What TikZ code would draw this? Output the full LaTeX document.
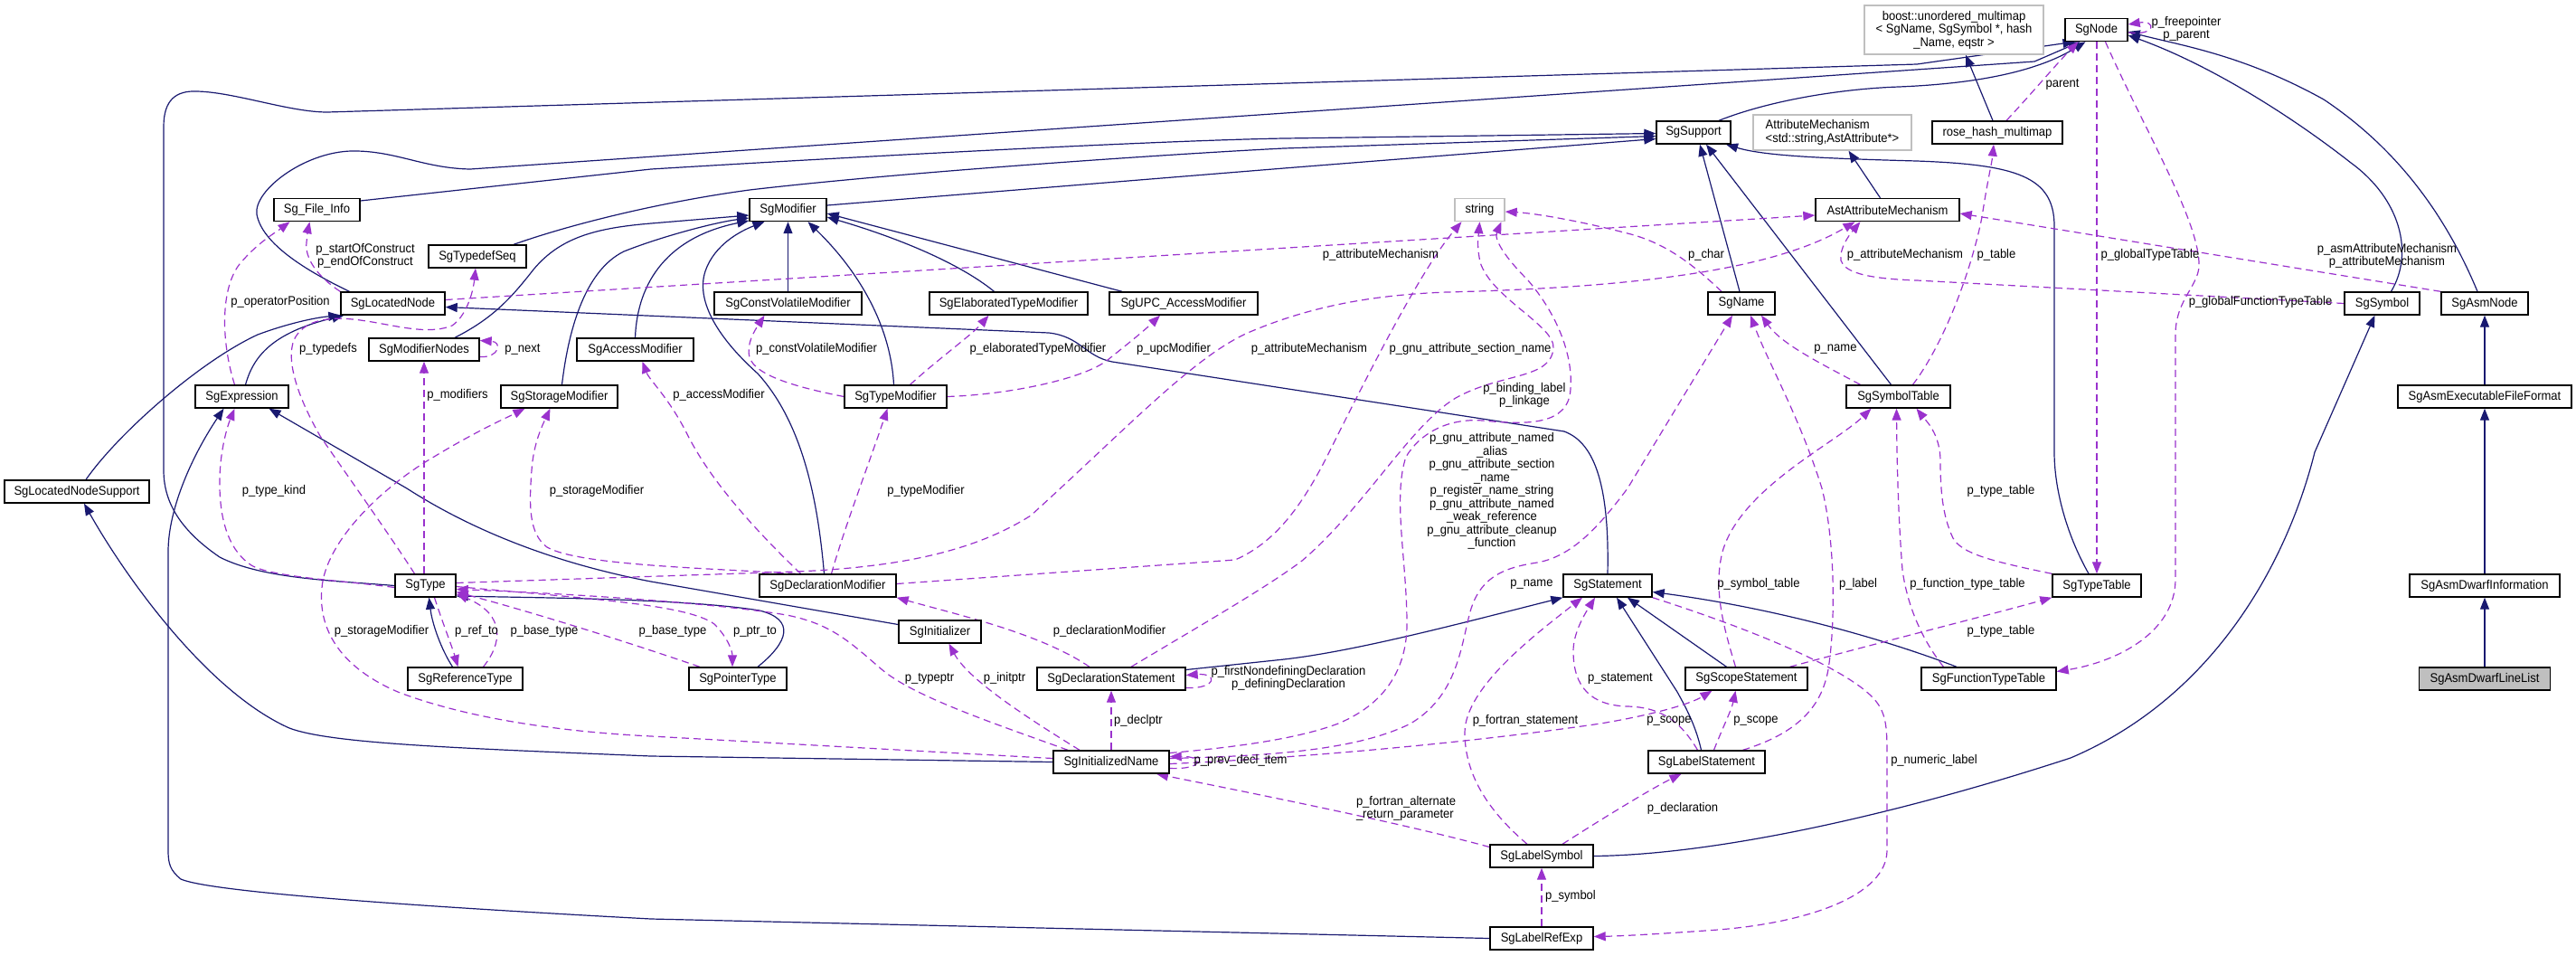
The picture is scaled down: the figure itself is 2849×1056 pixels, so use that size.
\documentclass[tikz,border=0pt]{standalone}
\usepackage{fontspec}
\newfontfamily\dfont{Liberation Sans}[FakeStretch=0.93]
\usetikzlibrary{arrows.meta}
\definecolor{navy}{HTML}{191970}
\definecolor{orch}{HTML}{9A32CD}
\definecolor{gborder}{HTML}{BFBFBF}
\definecolor{gfill}{HTML}{BFBFBF}
\newcommand\dgf{\dfont\fontsize{7pt}{7.25pt}\selectfont}
\pgfdeclarelayer{edges}
\pgfsetlayers{edges,main}
\tikzset{
 cls/.style={draw=black, line width=0.7pt, fill=white, minimum height=12.5pt, inner sep=0pt, font=\dgf, align=center},
 ext/.style={cls, draw=gborder},
 lbl/.style={inner sep=0pt, font=\dgf, align=center},
 inh/.style={draw=navy, line width=0.6pt, -{Triangle[length=6.5pt,width=5pt]}},
 use/.style={draw=orch, line width=0.6pt, dash pattern=on 4pt off 2.5pt, -{Triangle[length=6.5pt,width=5pt]}},
}
\begin{document}
\begin{tikzpicture}[x=0.5pt,y=-0.5pt]
\useasboundingbox (0,0) rectangle (2849,1056);
% ---------- classes
\node[cls,minimum width=34.5pt] (nNode) at (2318.5,33) {SgNode};
\node[ext,minimum width=99pt,minimum height=27pt] (nBoost) at (2161,33) {boost::unordered\_multimap\\< SgName, SgSymbol *, hash\\\_Name, eqstr >};
\node[cls,minimum width=41pt] (nSupp) at (1873,146.5) {SgSupport};
\node[ext,minimum width=87.5pt,minimum height=19.5pt,align=left] (nAttrm) at (2026.5,146.5) {AttributeMechanism\\<std::string,AstAttribute*>};
\node[cls,minimum width=72pt] (nRhm) at (2209,146.5) {rose\_hash\_multimap};
\node[cls,minimum width=47.5pt] (nFi) at (350.5,232) {Sg\_File\_Info};
\node[cls,minimum width=42.5pt] (nMod) at (871.5,232) {SgModifier};
\node[ext,minimum width=27.5pt] (nStr) at (1636.5,232) {string};
\node[cls,minimum width=79.5pt] (nAam) at (2087.5,232) {AstAttributeMechanism};
\node[cls,minimum width=54pt] (nTds) at (528,283.5) {SgTypedefSeq};
\node[cls,minimum width=57.5pt] (nLn) at (434.5,335.5) {SgLocatedNode};
\node[cls,minimum width=81.5pt] (nCvm) at (871.5,335.5) {SgConstVolatileModifier};
\node[cls,minimum width=87.5pt] (nEtm) at (1115.5,335.5) {SgElaboratedTypeModifier};
\node[cls,minimum width=82pt] (nUpc) at (1309,335.5) {SgUPC\_AccessModifier};
\node[cls,minimum width=37pt] (nName) at (1926,335.5) {SgName};
\node[cls,minimum width=41.5pt] (nSym) at (2634.5,335.5) {SgSymbol};
\node[cls,minimum width=48pt] (nAsmn) at (2748,335.5) {SgAsmNode};
\node[cls,minimum width=61pt] (nMn) at (469,386.5) {SgModifierNodes};
\node[cls,minimum width=64.5pt] (nAm) at (702.5,386.5) {SgAccessModifier};
\node[cls,minimum width=51.5pt] (nExpr) at (267.5,438.5) {SgExpression};
\node[cls,minimum width=64.5pt] (nSm) at (618.5,438.5) {SgStorageModifier};
\node[cls,minimum width=56.5pt] (nTm) at (990.5,438.5) {SgTypeModifier};
\node[cls,minimum width=57.5pt] (nSt) at (2099.5,438.5) {SgSymbolTable};
\node[cls,minimum width=96pt] (nAeff) at (2748,438.5) {SgAsmExecutableFileFormat};
\node[cls,minimum width=80pt] (nLns) at (85,543.5) {SgLocatedNodeSupport};
\node[cls,minimum width=33.5pt] (nType) at (470.5,647.5) {SgType};
\node[cls,minimum width=75.5pt] (nDm) at (915.5,647.5) {SgDeclarationModifier};
\node[cls,minimum width=49pt] (nStmt) at (1778,647.5) {SgStatement};
\node[cls,minimum width=49pt] (nTt) at (2319,647.5) {SgTypeTable};
\node[cls,minimum width=83pt] (nAdi) at (2748,647.5) {SgAsmDwarfInformation};
\node[cls,minimum width=45.5pt] (nInit) at (1039.5,698.5) {SgInitializer};
\node[cls,minimum width=63.5pt] (nRt) at (514.5,750.5) {SgReferenceType};
\node[cls,minimum width=54pt] (nPt) at (816,750.5) {SgPointerType};
\node[cls,minimum width=82pt] (nDs) at (1229,750.5) {SgDeclarationStatement};
\node[cls,minimum width=67.5pt] (nSs) at (1931.5,750.5) {SgScopeStatement};
\node[cls,minimum width=74.5pt] (nFtt) at (2199.5,750.5) {SgFunctionTypeTable};
\node[cls,minimum width=72.5pt,fill=gfill] (nAdll) at (2748,750.5) {SgAsmDwarfLineList};
\node[cls,minimum width=64pt] (nIname) at (1229,842.5) {SgInitializedName};
\node[cls,minimum width=64.5pt] (nLs) at (1887.5,842.5) {SgLabelStatement};
\node[cls,minimum width=57pt] (nLsym) at (1705,946.5) {SgLabelSymbol};
\node[cls,minimum width=57pt] (nLre) at (1705,1037.5) {SgLabelRefExp};
% ---------- edge labels
\node[lbl] (l1) at (404,283) {p\_startOfConstruct\\p\_endOfConstruct};
\node[lbl] (l2) at (310,334) {p\_operatorPosition};
\node[lbl] (l3) at (363,386) {p\_typedefs};
\node[lbl] (l4) at (578,386) {p\_next};
\node[lbl] (l5) at (506,437) {p\_modifiers};
\node[lbl] (l6) at (303,543) {p\_type\_kind};
\node[lbl] (l7) at (660,543) {p\_storageModifier};
\node[lbl] (l8) at (422,698) {p\_storageModifier};
\node[lbl] (l9) at (795,437) {p\_accessModifier};
\node[lbl] (l10) at (1024,543) {p\_typeModifier};
\node[lbl] (l11) at (903,386) {p\_constVolatileModifier};
\node[lbl] (l12) at (1148,386) {p\_elaboratedTypeModifier};
\node[lbl] (l13) at (1298,386) {p\_upcModifier};
\node[lbl] (l14) at (1527,282) {p\_attributeMechanism};
\node[lbl] (l15) at (1448,386) {p\_attributeMechanism};
\node[lbl] (l16) at (2107,282) {p\_attributeMechanism};
\node[lbl] (l17) at (2640,283) {p\_asmAttributeMechanism\\p\_attributeMechanism};
\node[lbl] (l18) at (1887,282) {p\_char};
\node[lbl] (l19) at (1626,386) {p\_gnu\_attribute\_section\_name};
\node[lbl] (l20) at (1686,437) {p\_binding\_label\\p\_linkage};
\node[lbl] (l21) at (1650,543) {p\_gnu\_attribute\_named\\\_alias\\p\_gnu\_attribute\_section\\\_name\\p\_register\_name\_string\\p\_gnu\_attribute\_named\\\_weak\_reference\\p\_gnu\_attribute\_cleanup\\\_function};
\node[lbl] (l22) at (2208,282) {p\_table};
\node[lbl] (l23) at (2281,93) {parent};
\node[lbl] (l24) at (2418,32) {p\_freepointer\\p\_parent};
\node[lbl] (l25) at (2378,282) {p\_globalTypeTable};
\node[lbl] (l26) at (2500,334) {p\_globalFunctionTypeTable};
\node[lbl] (l27) at (2213,543) {p\_type\_table};
\node[lbl] (l28) at (2176,646) {p\_function\_type\_table};
\node[lbl] (l29) at (1945,646) {p\_symbol\_table};
\node[lbl] (l30) at (2213,698) {p\_type\_table};
\node[lbl] (l31) at (2055,646) {p\_label};
\node[lbl] (l32) at (2030,386) {p\_name};
\node[lbl] (l33) at (1694,646) {p\_name};
\node[lbl] (l34) at (1792,750) {p\_statement};
\node[lbl] (l35) at (1942,797) {p\_scope};
\node[lbl] (l36) at (1846,797) {p\_scope};
\node[lbl] (l37) at (1687,797) {p\_fortran\_statement};
\node[lbl,align=left] (l38) at (1555,894) {p\_fortran\_alternate\\\_return\_parameter};
\node[lbl] (l39) at (1861,894) {p\_declaration};
\node[lbl] (l40) at (1737,991) {p\_symbol};
\node[lbl] (l41) at (2139,841) {p\_numeric\_label};
\node[lbl] (l42) at (1227,698) {p\_declarationModifier};
\node[lbl] (l43) at (1425,750) {p\_firstNondefiningDeclaration\\p\_definingDeclaration};
\node[lbl] (l44) at (1259,797) {p\_declptr};
\node[lbl] (l45) at (1372,841) {p\_prev\_decl\_item};
\node[lbl] (l46) at (1111,750) {p\_initptr};
\node[lbl] (l47) at (1028,750) {p\_typeptr};
\node[lbl] (l48) at (744,698) {p\_base\_type};
\node[lbl] (l49) at (602,698) {p\_base\_type};
\node[lbl] (l50) at (835,698) {p\_ptr\_to};
\node[lbl] (l51) at (527,698) {p\_ref\_to};
\begin{pgfonlayer}{edges}
% ---------- inheritance
\draw[inh] (nType.west) .. controls (370,642) and (290,640) .. (243,616) .. controls (205,590) and (181,560) .. (181,520) -- (181,140) .. controls (181,110) and (195,100) .. (218,101) .. controls (260,102) and (320,124) .. (362,124) -- (2120,71) -- ([xshift=-12pt]nNode.south);
\draw[inh] ([xshift=-24pt]nLn.north) .. controls (340,300) and (290,270) .. (284,237) .. controls (280,210) and (340,165) .. (395,167) .. controls (440,168) and (470,186) .. (520,187) -- (2250,68) -- ([xshift=-9pt]nNode.south);
\draw[inh] ([xshift=14pt]nSupp.north) .. controls (1960,110) and (2040,98) .. (2100,96) .. controls (2200,92) and (2260,75) .. ([xshift=-6pt]nNode.south);
\draw[inh] ([yshift=5pt]nFi.east) -- (720,187) .. controls (1000,170) and (1300,155) .. (1420,153) -- ([yshift=-0.5pt]nSupp.west);
\draw[inh] ([xshift=20pt]nTds.north) .. controls (640,245) and (740,222) .. (829,210) .. controls (1000,190) and (1300,170) .. (1420,164) -- ([yshift=-2pt]nSupp.west);
\draw[inh] ([yshift=2.5pt]nMod.east) -- (1420,186) -- ([yshift=-3.5pt]nSupp.west);
\draw[inh] ([xshift=17pt]nMn.north) .. controls (545,352) and (565,330) .. (590,298) .. controls (620,262) and (660,252) .. (720,247) -- ([yshift=-3pt]nMod.west);
\draw[inh] ([xshift=1.5pt]nSm.north) .. controls (628,370) and (645,300) .. (690,278) .. controls (730,262) and (790,246) .. ([yshift=-4.5pt]nMod.west);
\draw[inh] (nAm.north) .. controls (705,310) and (740,262) .. ([yshift=-6pt]nMod.west);
\draw[inh] ([xshift=-2pt]nDm.north) .. controls (905,560) and (890,470) .. (838,413) .. controls (790,370) and (770,330) .. (780,300) .. controls (790,270) and (820,255) .. ([xshift=-13pt]nMod.south);
\draw[inh] (nCvm.north) -- (nMod.south);
\draw[inh] ([xshift=-1pt]nTm.north) .. controls (985,360) and (950,300) .. ([xshift=11pt]nMod.south);
\draw[inh] ([xshift=-8pt]nEtm.north) .. controls (1060,290) and (990,262) .. ([yshift=-4pt]nMod.east);
\draw[inh] ([xshift=-34pt]nUpc.north) -- ([yshift=-2pt]nMod.east);
\draw[inh] ([xshift=5pt]nLns.north) .. controls (130,480) and (220,400) .. (285,370) .. controls (320,357) and (350,351) .. (nLn.south west);
\draw[inh] ([xshift=2pt]nExpr.north) .. controls (280,395) and (300,368) .. ([xshift=2pt]nLn.south west);
\draw[inh] (nStmt.north) .. controls (1780,540) and (1765,490) .. (1730,477) -- (1230,400) .. controls (1200,394) and (1195,372) .. (1160,368) -- ([yshift=-2pt]nLn.east);
\draw[inh] (nIname.west) -- (720,836) .. controls (500,827) and (365,822) .. (320,805) .. controls (230,765) and (140,640) .. ([xshift=4pt]nLns.south);
\draw[inh] (nLre.west) -- (720,1016) .. controls (420,1000) and (230,985) .. (200,972) .. controls (188,962) and (186,955) .. (186,940) -- (186,610) .. controls (186,560) and (215,500) .. ([xshift=-10pt]nExpr.south);
\draw[inh] ([yshift=4pt]nInit.west) -- (720,643) .. controls (610,622) and (520,585) .. (450,540) -- ([xshift=15pt]nExpr.south);
\draw[inh] ([xshift=-7pt]nRt.north) .. controls (488,718) and (478,690) .. ([xshift=2pt]nType.south);
\draw[inh] ([xshift=11pt]nPt.north) .. controls (872,710) and (880,685) .. (840,675) .. controls (760,662) and (600,661) .. ([yshift=-5.75pt]nType.east);
\draw[inh] ([yshift=5pt]nDs.east) -- (1420,729) .. controls (1500,720) and (1620,688) .. (nStmt.south west);
\draw[inh] ([xshift=-11pt]nSs.north) -- ([xshift=11pt]nStmt.south);
\draw[inh] ([xshift=-3pt]nLs.north) .. controls (1875,800) and (1862,778) .. (1855,765) -- ([xshift=5pt]nStmt.south);
\draw[inh] ([xshift=-17.75pt]nFtt.north) .. controls (2080,705) and (1960,672) .. ([yshift=-3.5pt]nStmt.east);
\draw[inh] (nLsym.east) .. controls (1900,945) and (2100,900) .. (2290,838) .. controls (2450,770) and (2530,620) .. (2560,500) -- ([xshift=-4pt]nSym.south);
\draw[inh] ([xshift=5pt]nSym.north) .. controls (2670,280) and (2655,220) .. (2600,180) .. controls (2530,125) and (2440,70) .. ([yshift=-3pt]nNode.east);
\draw[inh] ([xshift=-4pt]nAsmn.north) .. controls (2710,250) and (2660,170) .. (2570,110) .. controls (2480,60) and (2410,50) .. ([yshift=-1pt]nNode.east);
\draw[inh] (nAeff.north) -- (nAsmn.south);
\draw[inh] (nAdi.north) -- (nAeff.south);
\draw[inh] (nAdll.north) -- (nAdi.south);
\draw[inh] ([xshift=-1pt]nName.north) -- ([xshift=3.5pt]nSupp.south);
\draw[inh] ([xshift=-4pt]nSt.north) -- ([xshift=7pt]nSupp.south);
\draw[inh] ([xshift=-4.5pt]nTt.north) .. controls (2285,590) and (2272,540) .. (2272,500) -- (2272,250) .. controls (2272,195) and (2230,182) .. (2120,178) .. controls (2010,175) and (1950,172) .. ([xshift=18pt]nSupp.south);
\draw[inh] ([xshift=-4pt]nAam.north) -- ([xshift=9pt]nAttrm.south);
\draw[inh] ([xshift=-2.5pt]nRhm.north) -- ([xshift=6.5pt]nBoost.south);
% ---------- usage
\draw[use] (nLn.north west) .. controls (350,305) and (337,285) .. (339,268) .. controls (340,258) and (341,252) .. ([xshift=-4pt]nFi.south);
\draw[use] ([xshift=-4pt]nExpr.north) .. controls (245,380) and (243,320) .. (265,292) .. controls (285,268) and (305,257) .. ([xshift=-15pt]nFi.south);
\draw[use] ([xshift=-6pt]nType.north) .. controls (430,590) and (380,520) .. (354,482) .. controls (330,440) and (316,400) .. (325,376) .. controls (335,355) and (360,350) .. (390,353) .. controls (430,357) and (470,372) .. (500,360) .. controls (515,350) and (523,325) .. ([xshift=-1pt]nTds.south);
\draw[use] ([yshift=-4pt]nMn.east) .. controls (552,396) and (556,378) .. ([yshift=5pt]nMn.east);
\draw[use] ([xshift=-0.75pt]nType.north) -- (nMn.south);
\draw[use] ([yshift=-1pt]nType.west) .. controls (380,642) and (300,638) .. (278,625) .. controls (255,610) and (244,580) .. (243,540) .. controls (242,500) and (252,470) .. ([xshift=-4pt]nExpr.south);
\draw[use] ([xshift=-18pt]nDm.north) .. controls (780,628) and (640,625) .. (605,605) .. controls (585,590) and (585,560) .. (588,520) .. controls (590,490) and (600,470) .. ([xshift=-5pt]nSm.south);
\draw[use] ([yshift=2pt]nIname.west) -- (720,814) .. controls (600,808) and (505,790) .. (440,765) .. controls (370,735) and (352,690) .. (356,650) .. controls (360,600) and (420,540) .. (480,505) .. controls (530,475) and (560,462) .. ([xshift=-19pt]nSm.south);
\draw[use] ([xshift=-15pt]nDm.north) .. controls (850,600) and (790,540) .. (760,480) .. controls (740,440) and (718,420) .. ([xshift=4pt]nAm.south);
\draw[use] ([xshift=2pt]nDm.north) .. controls (935,580) and (962,510) .. ([xshift=-4.5pt]nTm.south);
\draw[use] (nTm.west) .. controls (880,428) and (835,415) .. (829,395) .. controls (825,380) and (835,365) .. ([xshift=-13pt]nCvm.south);
\draw[use] ([xshift=8pt]nTm.north) .. controls (1040,395) and (1075,370) .. ([xshift=-11pt]nEtm.south);
\draw[use] (nTm.east) .. controls (1120,436) and (1200,418) .. (1225,398) .. controls (1245,382) and (1265,366) .. ([xshift=-13pt]nUpc.south);
\draw[use] ([yshift=2pt]nLn.east) -- ([yshift=-3pt]nAam.west);
\draw[use] ([yshift=1.5pt]nType.east) -- (880,632) .. controls (1000,627) and (1080,608) .. (1140,570) .. controls (1250,470) and (1320,395) .. (1380,368) .. controls (1450,338) and (1520,326) .. (1600,323) .. controls (1800,318) and (1960,300) .. ([xshift=-18pt]nAam.south);
\draw[use] (nSym.west) -- (2120,310) .. controls (2060,308) and (2040,300) .. (2036,288) .. controls (2034,275) and (2045,260) .. ([xshift=-15pt]nAam.south);
\draw[use] (nAsmn.north west) -- ([yshift=-2pt]nAam.east);
\draw[use] ([xshift=-11pt]nName.north) .. controls (1870,290) and (1840,268) .. (1800,258) .. controls (1750,245) and (1700,236) .. ([yshift=-1pt]nStr.east);
\draw[use] ([yshift=1pt]nDm.east) -- (1366,619) .. controls (1410,600) and (1440,560) .. (1470,500) .. controls (1510,420) and (1570,300) .. ([xshift=-10pt]nStr.south);
\draw[use] ([xshift=11pt]nDs.north) .. controls (1330,690) and (1400,650) .. (1440,620) .. controls (1510,560) and (1560,470) .. (1610,440) .. controls (1660,412) and (1715,420) .. (1718,385) .. controls (1720,360) and (1650,330) .. (1637,290) .. controls (1633,270) and (1635,262) .. (nStr.south);
\draw[use] ([yshift=5pt]nIname.east) .. controls (1380,825) and (1440,815) .. (1480,800) .. controls (1540,775) and (1556,730) .. (1556,690) .. controls (1556,620) and (1540,550) .. (1555,505) .. controls (1570,480) and (1600,462) .. (1640,465) .. controls (1690,470) and (1735,470) .. (1737,430) .. controls (1740,390) and (1720,345) .. (1690,310) .. controls (1665,285) and (1652,265) .. ([xshift=12pt]nStr.south);
\draw[use] ([xshift=8pt]nSt.north) .. controls (2150,380) and (2180,300) .. (2192,240) .. controls (2198,200) and (2203,180) .. ([xshift=-2pt]nRhm.south);
\draw[use] ([xshift=5pt]nRhm.north) .. controls (2250,100) and (2275,70) .. ([xshift=-10pt]nNode.south);
\draw[use] ([yshift=-1.5pt]nNode.east) .. controls (2385,40) and (2385,22) .. ([yshift=3pt]nNode.east);
\draw[use] ([xshift=0.25pt]nNode.south) -- (nTt.north);
\draw[use] ([xshift=5pt]nNode.south) .. controls (2370,140) and (2430,240) .. (2432,290) .. controls (2434,315) and (2406,330) .. (2406,370) -- (2406,640) .. controls (2406,700) and (2340,732) .. ([yshift=4pt]nFtt.east);
\draw[use] (nTt.north west) .. controls (2200,620) and (2170,612) .. (2160,595) .. controls (2148,570) and (2146,540) .. (2146,510) .. controls (2146,480) and (2130,465) .. ([xshift=10pt]nSt.south);
\draw[use] ([xshift=-25pt]nFtt.north) .. controls (2120,700) and (2108,660) .. (2104,630) .. controls (2100,580) and (2098,520) .. ([xshift=-1pt]nSt.south);
\draw[use] ([xshift=-6pt]nSs.north) .. controls (1905,690) and (1895,650) .. (1905,610) .. controls (1925,540) and (2030,490) .. ([xshift=-15pt]nSt.south);
\draw[use] ([xshift=24pt]nSs.north) .. controls (2080,710) and (2200,680) .. (nTt.south west);
\draw[use] ([xshift=20pt]nLs.north) .. controls (1990,810) and (2015,780) .. (2022,740) .. controls (2030,690) and (2030,600) .. (2015,540) .. controls (1990,460) and (1955,400) .. ([xshift=5pt]nName.south);
\draw[use] ([xshift=-21pt]nSt.north) .. controls (2010,400) and (1970,380) .. ([xshift=11pt]nName.south);
\draw[use] ([yshift=2pt]nIname.east) .. controls (1400,836) and (1500,830) .. (1560,800) .. controls (1610,770) and (1615,720) .. (1625,680) .. controls (1635,640) and (1660,628) .. (1700,622) .. controls (1740,615) and (1770,580) .. (1800,540) -- ([xshift=-5pt]nName.south);
\draw[use] ([xshift=-5pt]nLs.north) .. controls (1860,800) and (1840,782) .. (1800,781) .. controls (1760,780) and (1740,760) .. (1740,720) .. controls (1740,700) and (1752,680) .. ([xshift=-7pt]nStmt.south);
\draw[use] ([xshift=4pt]nLs.north) .. controls (1905,805) and (1915,785) .. ([xshift=-6pt]nSs.south);
\draw[use] ([yshift=-1pt]nIname.east) .. controls (1400,840) and (1600,825) .. (1770,800) .. controls (1830,790) and (1870,778) .. ([xshift=-19pt]nSs.south);
\draw[use] ([xshift=-8pt]nLsym.north) .. controls (1650,900) and (1620,860) .. (1620,810) .. controls (1620,760) and (1700,700) .. ([xshift=-14pt]nStmt.south);
\draw[use] ([yshift=5pt]nLsym.west) .. controls (1550,910) and (1400,880) .. ([xshift=25pt]nIname.south);
\draw[use] ([xshift=11.5pt]nLsym.north) .. controls (1780,900) and (1830,870) .. ([xshift=-14pt]nLs.south);
\draw[use] (nLre.north) -- (nLsym.south);
\draw[use] (nStmt.south east) .. controls (1950,700) and (2040,740) .. (2070,770) .. controls (2085,785) and (2087,800) .. (2087,830) -- (2087,940) .. controls (2087,990) and (2000,1020) .. (1900,1028) .. controls (1830,1033) and (1790,1035) .. ([yshift=1pt]nLre.east);
\draw[use] ([xshift=-12pt]nDs.north) .. controls (1150,700) and (1060,680) .. (nDm.south east);
\draw[use] ([yshift=-5pt]nDs.east) .. controls (1345,762) and (1348,744) .. ([yshift=2pt]nDs.east);
\draw[use] (nIname.north) -- (nDs.south);
\draw[use] ([yshift=-3.5pt]nIname.east) .. controls (1332,851) and (1332,836) .. ([yshift=3pt]nIname.east);
\draw[use] ([xshift=-17.5pt]nIname.north) .. controls (1130,790) and (1070,750) .. ([xshift=5pt]nInit.south);
\draw[use] ([xshift=-24pt]nIname.north) .. controls (1100,800) and (1010,770) .. (975,740) .. controls (940,710) and (920,690) .. (870,680) .. controls (780,665) and (600,655) .. ([yshift=-2pt]nType.east);
\draw[use] ([xshift=-21pt]nPt.north) .. controls (700,712) and (600,680) .. ([yshift=-3.5pt]nType.east);
\draw[use] ([xshift=10pt]nRt.north) .. controls (555,712) and (560,680) .. ([yshift=-4.5pt]nType.east);
\draw[use] ([yshift=-0.5pt]nType.east) .. controls (650,662) and (760,668) .. (790,690) .. controls (805,705) and (810,720) .. ([xshift=-3pt]nPt.north);
\draw[use] ([xshift=5pt]nType.south) .. controls (490,690) and (500,715) .. ([xshift=-4pt]nRt.north);
\end{pgfonlayer}
\end{tikzpicture}
\end{document}
